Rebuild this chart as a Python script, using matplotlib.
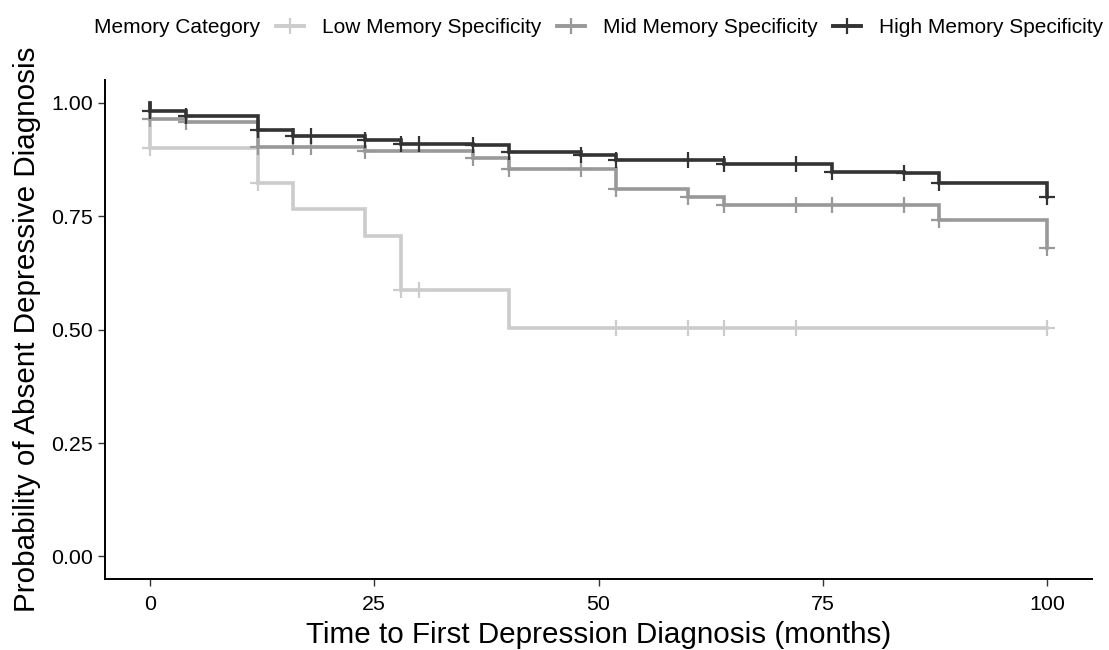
import matplotlib
matplotlib.use("Agg")
import matplotlib.pyplot as plt
from matplotlib.lines import Line2D
import numpy as np

plt.rcParams["font.family"] = ["Liberation Sans", "DejaVu Sans"]

# Kaplan-Meier step values per memory group (time in months, survival after each step)
groups = ["Low Memory Specificity", "Mid Memory Specificity", "High Memory Specificity"]
colors = ["#cccccc", "#999999", "#333333"]

low_times = [0, 0, 12, 16, 24, 28, 40, 100]
low_surv = [1.0, 0.900, 0.822, 0.765, 0.706, 0.587, 0.503, 0.503]
low_censor = [0, 12, 28, 30, 52, 60, 64, 72, 100]

mid_times = [0, 0, 4, 12, 24, 36, 40, 52, 60, 64, 88, 100]
mid_surv = [1.0, 0.965, 0.958, 0.903, 0.894, 0.879, 0.854, 0.810, 0.793, 0.775, 0.742, 0.680]
mid_censor = [0, 4, 12, 16, 18, 24, 36, 40, 48, 52, 60, 64, 72, 76, 84, 88, 100]

high_times = [0, 0, 4, 12, 16, 24, 28, 36, 40, 48, 52, 64, 76, 84, 88, 100]
high_surv = [1.0, 0.981, 0.971, 0.940, 0.927, 0.917, 0.909, 0.906, 0.891, 0.884,
             0.873, 0.865, 0.848, 0.845, 0.824, 0.791]
high_censor = [0, 4, 12, 16, 18, 24, 28, 30, 36, 40, 48, 52, 60, 64, 72, 76, 84, 88, 100]

curves = [
    (low_times, low_surv, low_censor),
    (mid_times, mid_surv, mid_censor),
    (high_times, high_surv, high_censor),
]

fig = plt.figure(figsize=(11.09, 6.5), dpi=100)
ax = fig.add_axes([0.0947, 0.109, 0.890, 0.768])

for (t, s, c), col in zip(curves, colors):
    t = np.array(t)
    s = np.array(s)
    ax.step(t, s, where="post", color=col, lw=2.6, solid_joinstyle="miter")
    # censor marks sit on the curve at the censoring time
    idx = np.searchsorted(t, c, side="right") - 1
    ax.plot(c, s[idx], ls="none", marker="+", ms=11, mew=1.6, color=col)

ax.set_xlim(-5, 105)
ax.set_ylim(-0.05, 1.05)
ax.set_xticks([0, 25, 50, 75, 100])
ax.set_yticks([0, 0.25, 0.5, 0.75, 1.0])
ax.set_yticklabels(["0.00", "0.25", "0.50", "0.75", "1.00"])
ax.tick_params(labelsize=15.4, length=5, width=1, color="#333333", labelcolor="#000000")
ax.tick_params(axis="x", pad=6.5)
for side in ["top", "right"]:
    ax.spines[side].set_visible(False)
for side in ["left", "bottom"]:
    ax.spines[side].set_linewidth(1.4)
    ax.spines[side].set_color("#000000")

ax.set_xlabel("Time to First Depression Diagnosis (months)", fontsize=21.3, labelpad=5)
ax.set_ylabel("Probability of Absent Depressive Diagnosis", fontsize=21.3, labelpad=7.5)

handles = [Line2D([0], [0], color=col, lw=2.8, marker="+", ms=12, mew=1.6) for col in colors]
fig.text(0.085, 0.958, "Memory Category", fontsize=15, va="center", ha="left")
fig.legend(handles, groups, loc="center left", bbox_to_anchor=(0.249, 0.958), ncol=3,
           frameon=False, fontsize=15, handlelength=1.35, handletextpad=0.85,
           columnspacing=0.75, borderaxespad=0, borderpad=0)

fig.savefig("out.png", dpi=100)
